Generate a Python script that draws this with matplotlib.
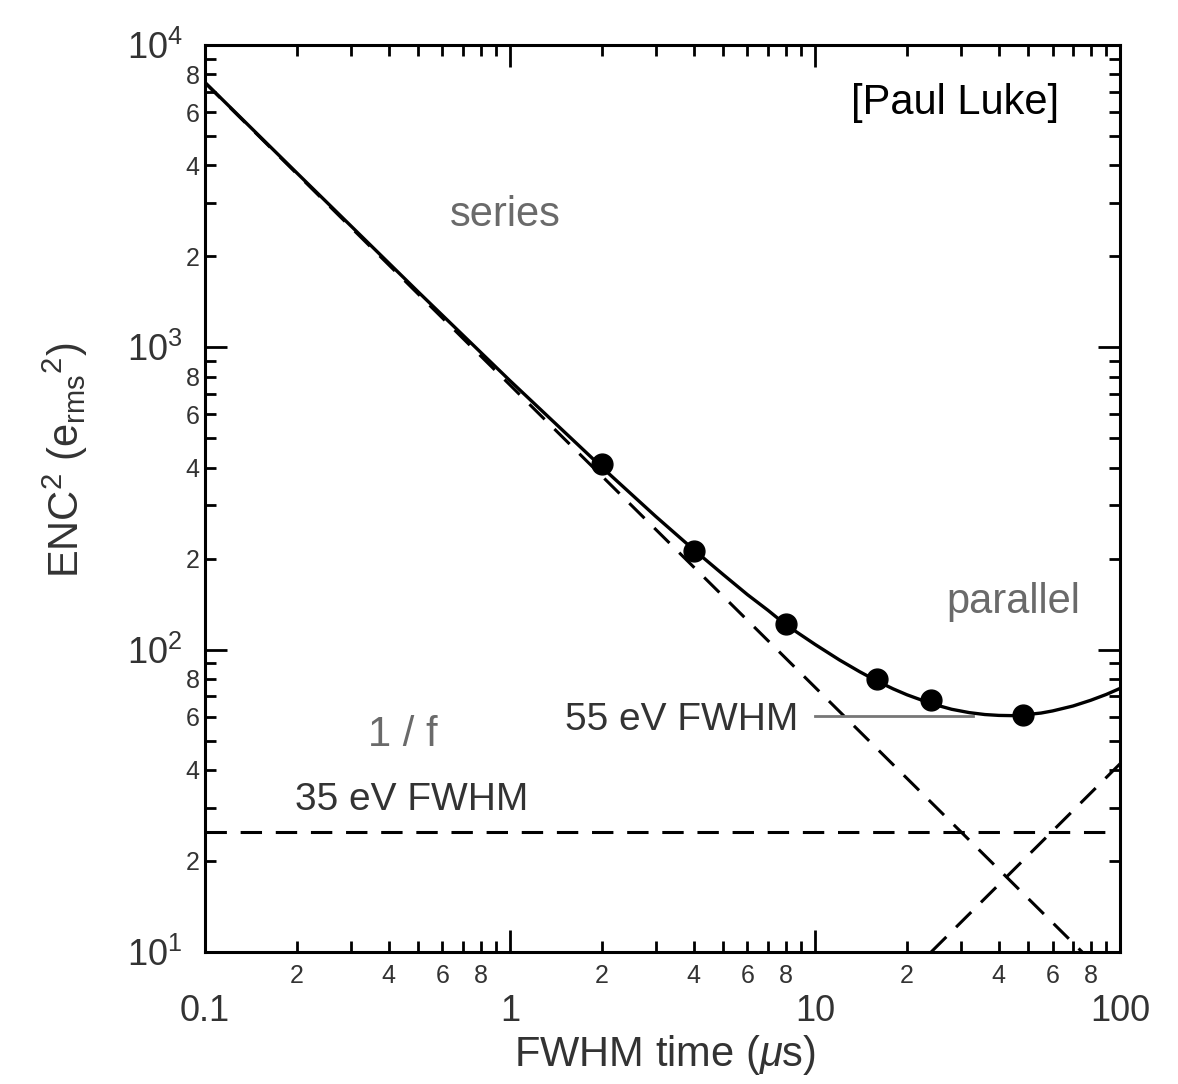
"""ENC^2 vs shaping time: series, 1/f and parallel noise contributions."""

import math

import matplotlib
matplotlib.use("Agg")
import matplotlib.pyplot as plt
from matplotlib.ticker import LogLocator, FuncFormatter

# --- data ---------------------------------------------------------------------
t_meas = [2, 4, 8, 16, 24, 48]
enc2_meas = [410, 212, 122, 80, 68, 61]

t_total = [0.1, 0.2, 0.5, 1, 2, 3, 4, 5, 6, 7, 8, 10, 12, 14, 16, 18, 20, 24,
           28, 32, 36, 40, 44, 48, 55, 60, 70, 80, 90, 100]
enc2_total = [7520, 3775, 1525, 775, 401, 276, 214, 177, 152, 135, 121, 104,
              92.5, 84.5, 78.6, 74.2, 70.9, 66.3, 63.5, 61.9, 61.0, 60.6,
              60.5, 60.8, 61.7, 62.7, 65.1, 68.0, 71.1, 74.5]

t_series = [0.1, 75]
enc2_series = [7500, 10]

t_parallel = [24, 100]
enc2_parallel = [10, 42]

t_flicker = [0.1, 100]
enc2_flicker = [25, 25]

t_55ev = [10, 33]
enc2_55ev = [60.5, 60.5]

GREY = "#6a6a6a"
DARK = "#333333"

plt.rcParams["font.family"] = ["Liberation Sans", "DejaVu Sans"]
plt.rcParams["mathtext.fontset"] = "custom"
plt.rcParams["mathtext.rm"] = "Liberation Sans"
plt.rcParams["mathtext.it"] = "Liberation Sans:italic"
plt.rcParams["mathtext.sf"] = "Liberation Sans"

fig = plt.figure(figsize=(11.78, 10.84), dpi=100)
ax = fig.add_axes([0.174, 0.1218, 0.777, 0.8367])

dash = (7, 4.5)
ax.plot(t_total, enc2_total, color="black", lw=2.4)
ax.plot(t_series, enc2_series, color="black", lw=2.2, dashes=dash)
ax.plot(t_parallel, enc2_parallel, color="black", lw=2.2, dashes=dash)
ax.plot(t_flicker, enc2_flicker, color="black", lw=2.2, dashes=dash)
ax.plot(t_55ev, enc2_55ev, color="#777777", lw=2)
ax.plot(t_meas, enc2_meas, "o", color="black", markersize=15)

ax.set_xscale("log")
ax.set_yscale("log")
ax.set_xlim(0.1, 100)
ax.set_ylim(10, 1e4)

for spine in ax.spines.values():
    spine.set_linewidth(2.2)


def minor_label(v, pos):
    m = round(v / 10 ** math.floor(math.log10(v) + 1e-9))
    return str(m) if m in (2, 4, 6, 8) else ""


for axis in (ax.xaxis, ax.yaxis):
    axis.set_major_locator(LogLocator(base=10, numticks=10))
    axis.set_minor_locator(LogLocator(base=10, subs=range(2, 10), numticks=100))
    axis.set_minor_formatter(FuncFormatter(minor_label))

ax.xaxis.set_major_formatter(FuncFormatter(lambda v, p: f"{v:g}"))
ax.yaxis.set_major_formatter(
    FuncFormatter(lambda v, p: f"10$^{{{int(round(math.log10(v)))}}}$"))

ax.tick_params(which="both", direction="in", top=True, right=True,
               width=2, colors="black", labelcolor=DARK)
ax.tick_params(which="major", length=16)
ax.tick_params(which="minor", length=8)
ax.tick_params(axis="x", which="major", labelsize=26, pad=30)
ax.tick_params(axis="x", which="minor", labelsize=18, pad=9)
ax.tick_params(axis="y", which="major", labelsize=26, pad=16)
ax.tick_params(axis="y", which="minor", labelsize=18, pad=4)

ax.set_xlabel(r"FWHM time ($\mu$s)", fontsize=30, color=DARK, va="center")
ax.xaxis.set_label_coords(0.503, -0.1136)
ax.set_ylabel(r"ENC$^{2}$ (e$_{\mathrm{rms}}$$^{2}$)", fontsize=30, color=DARK,
              va="center")
ax.yaxis.set_label_coords(-0.153, 0.542)

kw = dict(transform=ax.transAxes, ha="center", va="center")
ax.text(0.328, 0.813, "series", fontsize=30, color=GREY, **kw)
ax.text(0.820, 0.936, "[Paul Luke]", fontsize=30, color="black", **kw)
ax.text(0.883, 0.386, "parallel", fontsize=30, color=GREY, **kw)
ax.text(0.216, 0.239, "1 / f", fontsize=30, color=GREY, **kw)
ax.text(0.226, 0.168, "35 eV FWHM", fontsize=28, color=DARK, **kw)
ax.text(0.521, 0.256, "55 eV FWHM", fontsize=28, color=DARK, **kw)

fig.savefig("out.png", dpi=100)
